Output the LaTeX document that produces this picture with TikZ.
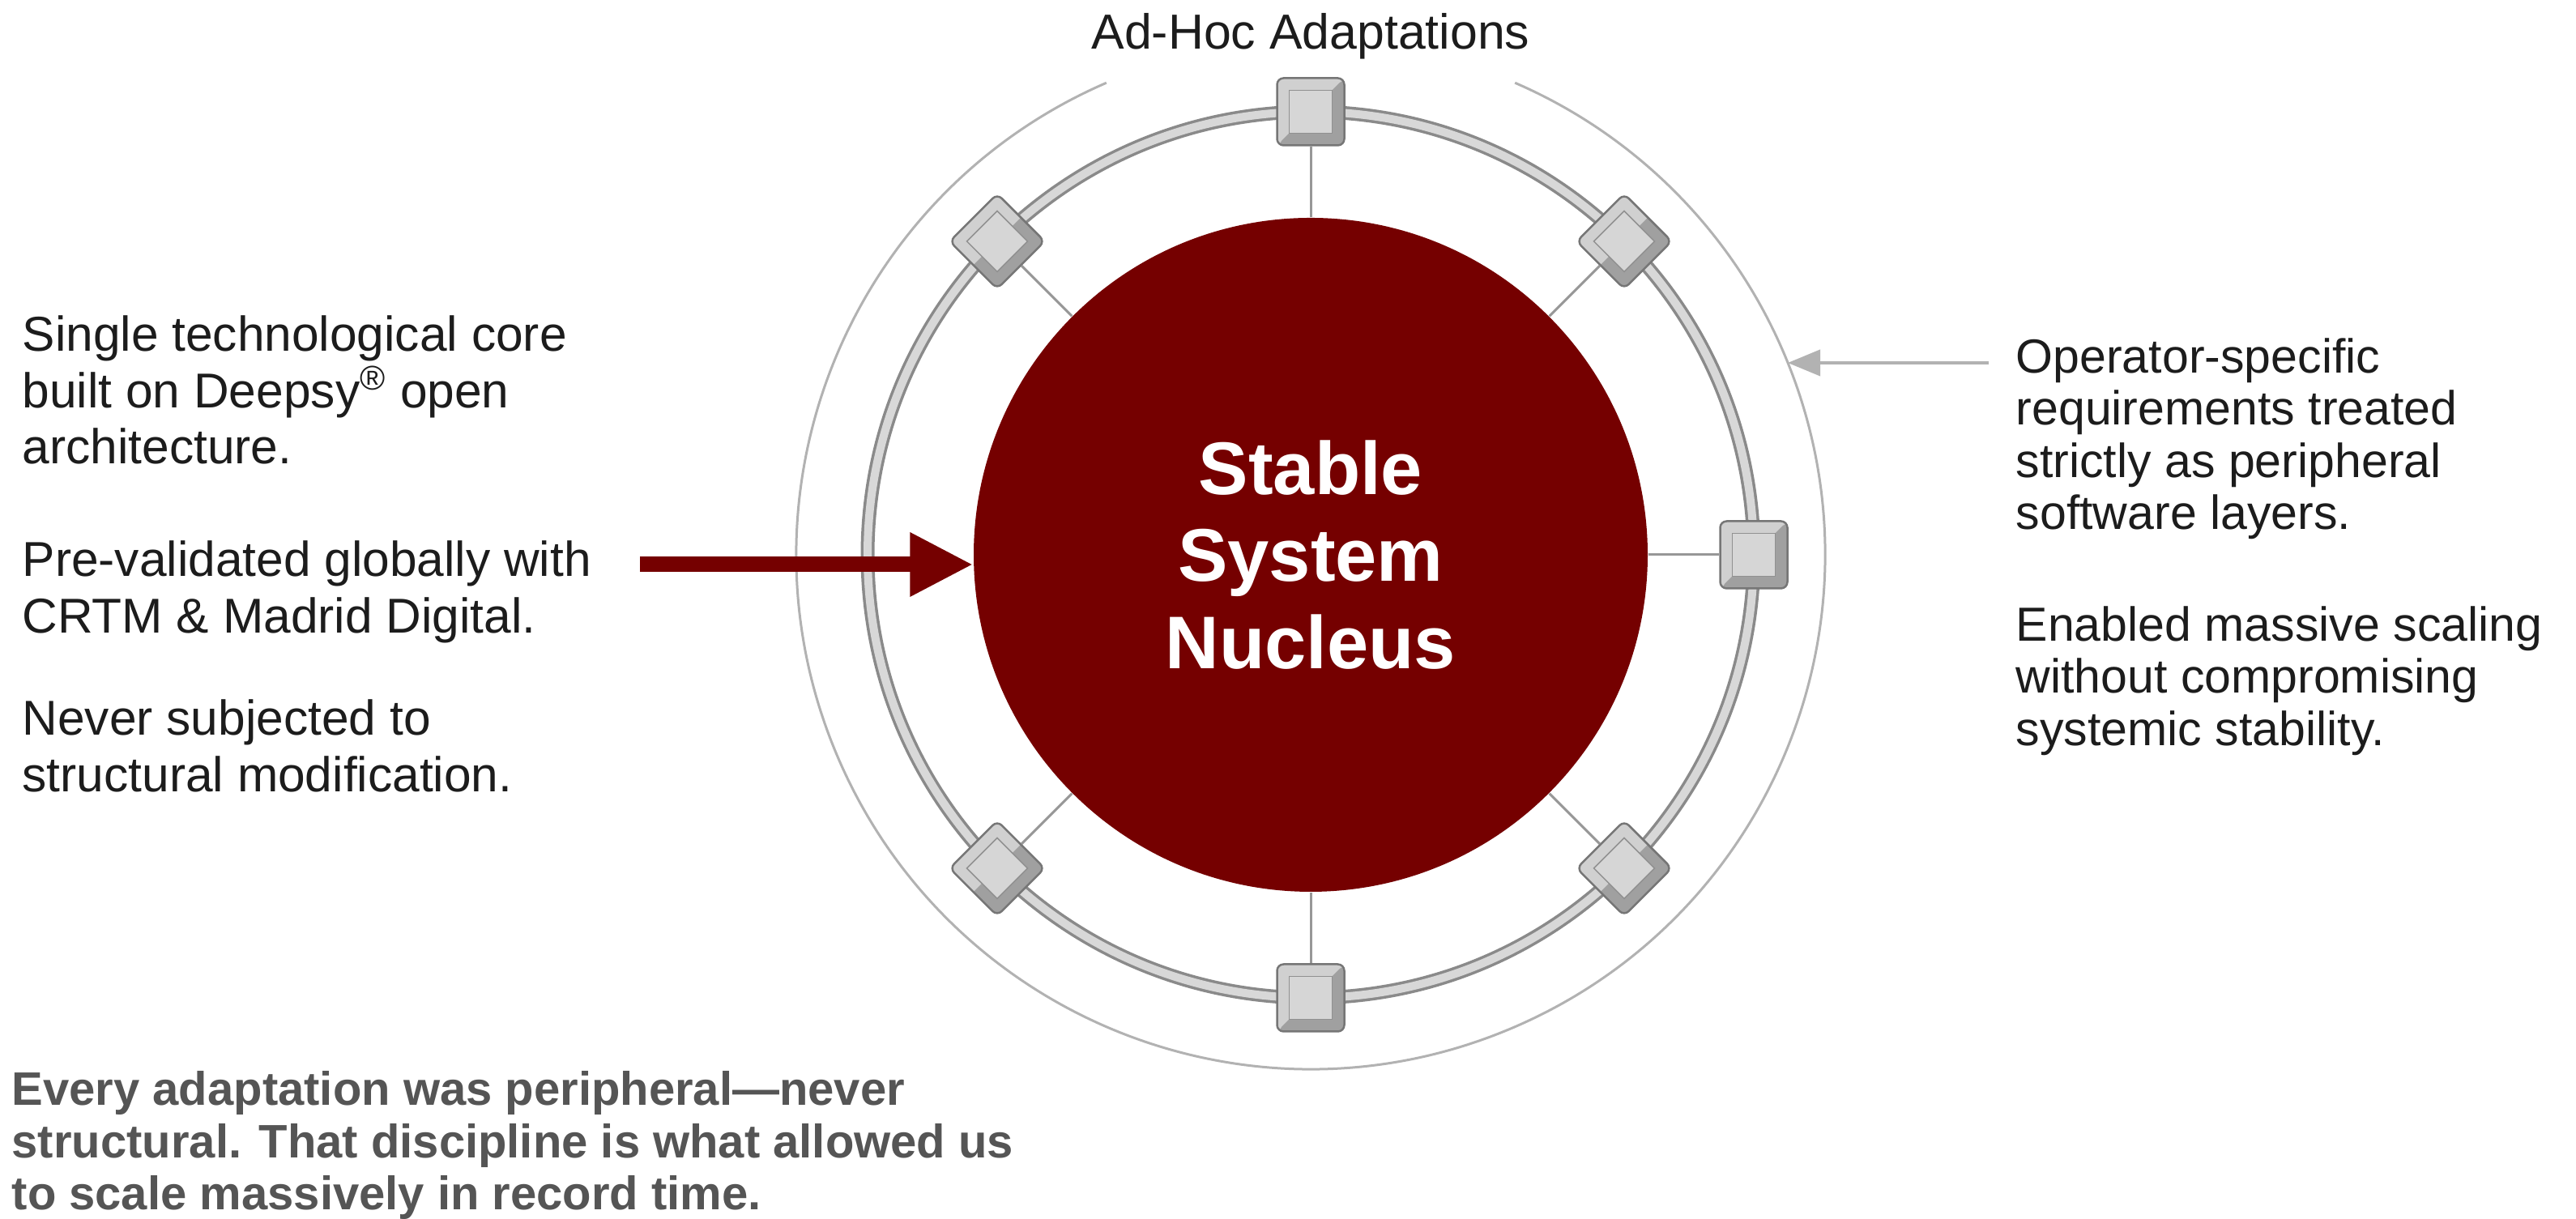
\documentclass[tikz,border=0pt]{standalone}
\usepackage{fontspec}
\setmainfont{Liberation Sans}
\usepackage{xcolor}
\usepackage{tikz}
\usetikzlibrary{arrows.meta}
\pgfdeclarelayer{ringlayer}
\pgfdeclarelayer{nodelayer}
\pgfdeclarelayer{edgelayer}
\pgfsetlayers{ringlayer,nodelayer,edgelayer,main}
\definecolor{nucleusred}{RGB}{117,0,0}
\definecolor{inkgray}{RGB}{28,28,28}
\definecolor{quotegray}{RGB}{85,85,85}
\definecolor{ringdark}{RGB}{138,138,138}
\definecolor{ringlight}{RGB}{216,216,216}
\definecolor{orbitgray}{RGB}{178,178,178}
\definecolor{bevellight}{RGB}{208,208,208}
\definecolor{beveldark}{RGB}{160,160,160}
\definecolor{boxedge}{RGB}{118,118,118}
\definecolor{facegray}{RGB}{214,214,214}
\tikzset{
    none/.style = {inner sep=0pt},
    nucleus/.style = {circle, fill=nucleusred, minimum size=8.32cm, inner sep=0pt, text=white, align=center, font=\fontsize{26.2}{30.5}\selectfont\bfseries},
    modbox/.style = {rectangle, rounded corners=0.08cm, minimum size=0.83cm, inner sep=0pt, draw=boxedge, line width=0.025cm, fill=bevellight, path picture={\fill [beveldark] (path picture bounding box.south west) -- (path picture bounding box.south east) -- (path picture bounding box.north east) -- cycle;}},
    modface/.style = {rectangle, minimum size=0.53cm, inner sep=0pt, draw=boxedge!80, line width=0.015cm, fill=facegray},
    spoke/.style = {draw=orbitgray!85!black, line width=0.03cm},
    orbit/.style = {draw=orbitgray, line width=0.03cm},
    heading/.style = {inner sep=0pt, anchor=base, text=inkgray, font=\fontsize{17.3}{20}\selectfont},
    note/.style = {inner sep=0pt, anchor=north west, align=left, text=inkgray, font=\fontsize{17.2}{19.8}\selectfont},
    sidenote/.style = {note, font=\fontsize{16.8}{18.3}\selectfont},
    moral/.style = {note, text=quotegray, font=\fontsize{16.5}{18.3}\selectfont\bfseries},
    corearrow/.style = {draw=nucleusred, line width=0.19cm, -{Triangle[length=0.78cm, width=0.74cm]}},
    notearrow/.style = {draw=orbitgray, line width=0.04cm, -{Triangle[length=0.40cm, width=0.32cm]}}
}
\begin{document}
\begin{tikzpicture}
  \useasboundingbox (0, 0) rectangle (31.8, 15.05);
  \begin{pgfonlayer}{nodelayer}
    \node [style=nucleus] (0) at (16.18, 8.2) {Stable\\System\\Nucleus};
    \node [style=modbox] (1) at (16.18, 13.67) {};
    \node [style=modbox, rotate=45] (2) at (20.05, 12.07) {};
    \node [style=modbox] (3) at (21.65, 8.2) {};
    \node [style=modbox, rotate=45] (4) at (20.05, 4.33) {};
    \node [style=modbox] (5) at (16.18, 2.73) {};
    \node [style=modbox, rotate=45] (6) at (12.31, 4.33) {};
    \node [style=modbox, rotate=45] (7) at (12.31, 12.07) {};
    \node [style=modface] (8) at (1.center) {};
    \node [style=modface, rotate=45] (9) at (2.center) {};
    \node [style=modface] (10) at (3.center) {};
    \node [style=modface, rotate=45] (11) at (4.center) {};
    \node [style=modface] (12) at (5.center) {};
    \node [style=modface, rotate=45] (13) at (6.center) {};
    \node [style=modface, rotate=45] (14) at (7.center) {};
    \node [style=heading] (15) at (16.18, 14.44) {Ad-Hoc Adaptations};
    \node [style=note] (16) at (0.27, 11.16) {Single technological core\\built on Deepsy\textsuperscript{®} open\\architecture.};
    \node [style=note] (17) at (0.27, 8.38) {Pre-validated globally with\\CRTM \& Madrid Digital.};
    \node [style=note] (18) at (0.27, 6.42) {Never subjected to\\structural modification.};
    \node [style=sidenote] (19) at (24.88, 10.88) {Operator-specific\\requirements treated\\strictly as peripheral\\software layers.};
    \node [style=sidenote] (20) at (24.88, 7.57) {Enabled massive scaling\\without compromising\\systemic stability.};
    \node [style=moral] (21) at (0.14, 1.83) {Every adaptation was peripheral—never\\structural. That discipline is what allowed us\\to scale massively in record time.};
    \coordinate (22) at (7.9, 8.08);
    \coordinate (23) at (24.55, 10.57);
    \coordinate (24) at (22.07, 10.57);
  \end{pgfonlayer}
  \begin{pgfonlayer}{ringlayer}
    \draw [style=orbit] ([shift={(113.4:6.35)}]0.center) arc [start angle=113.4, end angle=426.6, radius=6.35];
    \draw [draw=ringdark, line width=0.17cm] (0.center) circle [radius=5.47];
    \draw [draw=ringlight, line width=0.1cm] (0.center) circle [radius=5.47];
  \end{pgfonlayer}
  \begin{pgfonlayer}{edgelayer}
    \draw [style=spoke] (0) to (1);
    \draw [style=spoke] (0) to (2);
    \draw [style=spoke] (0) to (3);
    \draw [style=spoke] (0) to (4);
    \draw [style=spoke] (0) to (5);
    \draw [style=spoke] (0) to (6);
    \draw [style=spoke] (0) to (7);
    \draw [style=corearrow] (22) to (22 -| 0.west);
    \draw [style=notearrow] (23) to (24);
  \end{pgfonlayer}
\end{tikzpicture}
\end{document}
